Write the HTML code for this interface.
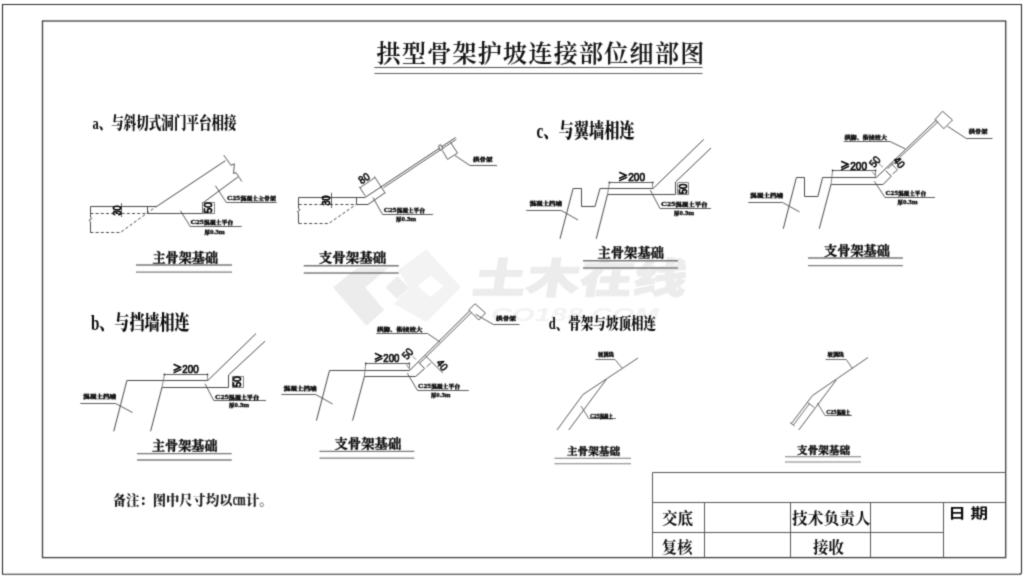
<!DOCTYPE html>
<html lang="zh-CN">
<head>
<meta charset="utf-8">
<title>拱型骨架护坡连接部位细部图</title>
<style>
html,body{margin:0;padding:0;background:#fff;}
body{width:1024px;height:579px;overflow:hidden;position:relative;font-family:"Liberation Serif","Noto Serif CJK SC",serif;}
svg{position:absolute;left:0;top:0;display:block;}
svg path{fill:none;}
.s{font-family:"Liberation Serif","Noto Serif CJK SC",serif;font-weight:500;}
.sb{font-family:"Liberation Serif","Noto Serif CJK SC",serif;font-weight:700;}
.sk{font-family:"Liberation Serif","Noto Serif CJK SC",serif;font-weight:900;}
.h{font-family:"Liberation Sans","Noto Sans CJK SC",sans-serif;font-weight:400;}
.hc{font-family:"Noto Sans CJK SC","Liberation Sans",sans-serif;font-weight:400;}
.hm{font-family:"Liberation Sans","Noto Sans CJK SC",sans-serif;font-weight:500;}
.st{font-family:"Liberation Serif","Noto Serif CJK SC",serif;font-weight:600;}
.sv{font-family:"Liberation Serif","Noto Serif CJK SC",serif;font-weight:700;}
.wmn{font-family:"Liberation Sans","Noto Sans CJK SC",sans-serif;font-weight:900;}
.hb{font-family:"Liberation Sans","Noto Sans CJK SC",sans-serif;font-weight:700;}
.wm{font-family:"Liberation Sans","Noto Sans CJK SC",sans-serif;font-weight:900;font-style:italic;}
</style>
</head>
<body>
<svg width="1024" height="579" viewBox="0 0 1024 579">
<defs>
<filter id="soft" x="0" y="0" width="1024" height="579" filterUnits="userSpaceOnUse" color-interpolation-filters="sRGB">
<feConvolveMatrix order="3" kernelMatrix="0.062 0.249 0.062 0.249 1 0.249 0.062 0.249 0.062" divisor="2.244" edgeMode="duplicate" preserveAlpha="false"/>
</filter>
</defs>
<rect x="0" y="0" width="1024" height="579" fill="#ffffff"/>
<g filter="url(#soft)">
<rect x="0" y="0" width="1024" height="579" fill="#ffffff"/>

<g id="watermark">
<path d="M333 287.4 L357 268 L388 268 L365.3 287.6 L384 310 L366.6 325.8 Z" style="fill:#ececec" stroke="none"/>
<path d="M397.2 276 L409 287.6 L397.2 299 L385.5 287.6 Z" style="fill:#ededed" stroke="none"/>
<path d="M426.4 249.5 L461 287 L426.4 322 L394 304 L409.5 287.5 L398 270 Z M430.5 275.5 L417.5 286.3 L430.5 297 L443.8 286.3 Z" style="fill:#f3f3f3;fill-rule:evenodd" stroke="none"/>
<text transform="translate(471 293) skewX(-9)" x="0" y="0" class="wmn" font-size="41" fill="#ececec" stroke="#ececec" stroke-width="1" textLength="214" lengthAdjust="spacingAndGlyphs">土木在线</text>
<text x="491.00" y="320.50" class="wm" font-size="18.5" text-anchor="start" fill="#f2f2f2" textLength="168.00" lengthAdjust="spacingAndGlyphs" >CO188.COM</text>
</g>
<g id="frames">
<path d="M2.5 4.5 H1021.5 V572.3 Q1021.5 574.3 1019.5 574.3 H2.5 Z" stroke="#2a2a2a" stroke-width="1.1"/>
<rect x="42.5" y="21" width="963.2" height="536.6" fill="none" stroke="#3c3c3c" stroke-width="1.3"/>
</g>
<g id="title">
<text x="376.6" y="62" class="st" font-size="24" fill="#111" stroke="#111" stroke-width="0.15" textLength="327.6" lengthAdjust="spacing">拱型骨架护坡连接部位细部图</text>
<path d="M374.40 67.50 L702.50 67.50" stroke="#505050" stroke-width="1.2" />
<path d="M374.40 73.50 L702.50 73.50" stroke="#606060" stroke-width="1.1" />
</g>
<g id="labels">
<text x="92.50" y="128.50" class="sk" font-size="16.8" text-anchor="start" fill="#0a0a0a" textLength="144.00" lengthAdjust="spacingAndGlyphs" >a、与斜切式洞门平台相接</text>
<text x="90.90" y="329.80" class="sk" font-size="20.5" text-anchor="start" fill="#0a0a0a" textLength="98.80" lengthAdjust="spacingAndGlyphs" >b、与挡墙相连</text>
<text x="536.50" y="137.80" class="sk" font-size="20.5" text-anchor="start" fill="#0a0a0a" textLength="98.30" lengthAdjust="spacingAndGlyphs" >c、与翼墙相连</text>
<text x="548.80" y="329.00" class="sk" font-size="16" text-anchor="start" fill="#0a0a0a" textLength="107.20" lengthAdjust="spacingAndGlyphs" >d、骨架与坡顶相连</text>
<text y="505.2" class="sk" font-size="13.3" fill="#1c1c1c"><tspan x="112.8" textLength="119.7" lengthAdjust="spacingAndGlyphs">备注：图中尺寸均以</tspan><tspan x="232.7" font-size="16" stroke="#1c1c1c" stroke-width="0.3" textLength="12.8" lengthAdjust="spacingAndGlyphs">cm</tspan><tspan x="246" textLength="26.6" lengthAdjust="spacingAndGlyphs">计。</tspan></text>
</g>
<g id="a1">
<path d="M90.50 232.70 L90.50 221.70 L89.00 220.30 L91.80 218.50 L90.50 217.20 L90.50 206.50 L156.65 206.50 L225.40 160.70" stroke="#484848" stroke-width="1.0" />
<path d="M90.40 213.50 L147.40 213.50" stroke="#484848" stroke-width="1.0" stroke-dasharray="3 2.2" />
<path d="M90.40 232.50 L120.40 232.50 L156.65 206.20" stroke="#484848" stroke-width="1.0" stroke-dasharray="3 2.2" />
<path d="M147.50 206.20 L147.50 213.50 L202.50 213.50 L202.50 203.20 L237.90 177.00" stroke="#484848" stroke-width="1.0" />
<path d="M223.80 155.10 L231.00 165.40 L234.40 163.80 L233.50 173.50 L236.00 172.60 L241.80 181.50" stroke="#484848" stroke-width="0.9" />
<path d="M121.50 203.20 L121.50 217.00" stroke="#484848" stroke-width="0.9" />
<text transform="translate(117.40 210.40) rotate(-90)" x="-5.00" y="3.94" class="h" font-size="11" fill="#000" stroke="#000" stroke-width="0.8" textLength="10.00" lengthAdjust="spacingAndGlyphs">30</text>
<path d="M202.40 202.50 L214.50 202.50 L214.50 213.50 L202.50 213.50 L202.50 202.00" stroke="#707070" stroke-width="0.9" />
<text transform="translate(208.30 207.70) rotate(-90)" x="-5.50" y="4.12" class="h" font-size="11.5" fill="#000" stroke="#000" stroke-width="0.8" textLength="11.00" lengthAdjust="spacingAndGlyphs">50</text>
<path d="M215.40 185.70 L226.30 202.50 L276.70 202.50" stroke="#484848" stroke-width="0.9" />
<text transform="translate(226.90 200.00) scale(0.25)" x="0" y="0" class="sk" font-size="20.0" fill="#000" stroke="#000" stroke-width="1.20" textLength="196.0" lengthAdjust="spacingAndGlyphs"><tspan font-size="26.0">C25</tspan>混凝土主骨架</text>
<path d="M180.40 210.70 L190.20 226.50 L241.70 226.50" stroke="#484848" stroke-width="0.9" />
<text transform="translate(190.60 224.40) scale(0.25)" x="0" y="0" class="sk" font-size="20.0" fill="#000" stroke="#000" stroke-width="1.20" textLength="170.4" lengthAdjust="spacingAndGlyphs"><tspan font-size="26.0">C25</tspan>混凝土平台</text>
<text transform="translate(204.40 233.80) scale(0.25)" x="0" y="0" class="sk" font-size="20.0" fill="#000" stroke="#000" stroke-width="1.20" textLength="81.2" lengthAdjust="spacingAndGlyphs">厚<tspan font-size="26.0">0.3m</tspan></text>
<text x="152.50" y="261.60" class="sb" font-size="13" text-anchor="start" fill="#0a0a0a" textLength="65.50" lengthAdjust="spacingAndGlyphs" stroke="#0a0a0a" stroke-width="0.35">主骨架基础</text>
<path d="M136.00 265.00 H232.00" stroke="#777" stroke-width="1.3"/>
<path d="M136.00 272.20 H232.00" stroke="#7c7c7c" stroke-width="1.3"/>
</g>
<g id="a2">
<path d="M298.50 223.50 L298.50 213.00 L297.40 211.60 L300.10 209.80 L298.50 208.50 L298.50 197.50 L365.00 197.50 L455.60 137.50" stroke="#484848" stroke-width="1.0" />
<path d="M298.75 204.50 L356.25 204.50" stroke="#484848" stroke-width="1.0" stroke-dasharray="3 2.2" />
<path d="M298.75 223.50 L328.75 223.50 L356.25 204.40" stroke="#484848" stroke-width="1.0" stroke-dasharray="3 2.2" />
<path d="M356.50 197.25 L356.50 204.50 L368.00 204.50 L385.00 192.75" stroke="#484848" stroke-width="1.0" />
<path d="M383.50 187.70 L456.40 139.30" stroke="#484848" stroke-width="0.9" />
<path d="M360.00 187.75 L375.00 177.50" stroke="#484848" stroke-width="0.9" />
<path d="M359.30 186.70 L365.30 196.00" stroke="#484848" stroke-width="0.9" />
<path d="M374.30 176.40 L385.30 193.30" stroke="#484848" stroke-width="0.9" />
<text transform="translate(364.00 178.20) rotate(-33.5)" x="-5.50" y="3.94" class="h" font-size="11" fill="#000" stroke="#000" stroke-width="0.55" textLength="11.00" lengthAdjust="spacingAndGlyphs">80</text>
<path d="M331.50 192.75 L331.50 208.00" stroke="#484848" stroke-width="0.9" />
<text transform="translate(325.60 200.60) rotate(-90)" x="-5.00" y="3.94" class="h" font-size="11" fill="#000" stroke="#000" stroke-width="0.8" textLength="10.00" lengthAdjust="spacingAndGlyphs">30</text>
<ellipse cx="440.6" cy="147.5" rx="1.6" ry="2.8" transform="rotate(-20 440.6 147.5)" fill="#fff" stroke="#484848" stroke-width="0.9"/>
<path d="M442.50 150.60 L447.50 159.40 L457.50 153.10 L450.60 142.50" stroke="#484848" stroke-width="0.9" />
<path d="M455.00 155.60 L470.00 165.50 L497.00 165.50" stroke="#484848" stroke-width="0.9" />
<text transform="translate(473.00 161.00) scale(0.25)" x="0" y="0" class="sk" font-size="20.0" fill="#000" stroke="#000" stroke-width="1.20" textLength="78.0" lengthAdjust="spacingAndGlyphs">拱骨架</text>
<path d="M373.00 197.50 L382.50 214.50 L433.00 214.50" stroke="#484848" stroke-width="0.9" />
<text transform="translate(383.70 212.20) scale(0.25)" x="0" y="0" class="sk" font-size="20.0" fill="#000" stroke="#000" stroke-width="1.20" textLength="165.2" lengthAdjust="spacingAndGlyphs"><tspan font-size="26.0">C25</tspan>混凝土平台</text>
<text transform="translate(396.00 220.80) scale(0.25)" x="0" y="0" class="sk" font-size="20.0" fill="#000" stroke="#000" stroke-width="1.20" textLength="80.0" lengthAdjust="spacingAndGlyphs">厚<tspan font-size="26.0">0.3m</tspan></text>
<text x="318.75" y="262.35" class="sb" font-size="13" text-anchor="start" fill="#0a0a0a" textLength="67.50" lengthAdjust="spacingAndGlyphs" stroke="#0a0a0a" stroke-width="0.35">支骨架基础</text>
<path d="M303.75 265.75 H398.75" stroke="#777" stroke-width="1.3"/>
<path d="M303.75 273.00 H398.75" stroke="#7c7c7c" stroke-width="1.3"/>
</g>
<g id="b1">
<path d="M113.75 431.25 L126.90 380.50 L207.80 380.50 L256.00 333.60" stroke="#484848" stroke-width="1.0" />
<path d="M150.60 431.25 L162.00 387.30" stroke="#484848" stroke-width="1.0" />
<path d="M162.00 387.30 L164.40 375.00" stroke="#6a6a6a" stroke-width="0.8" />
<path d="M162.00 387.50 L228.50 387.50 L228.50 375.00 L265.00 341.20" stroke="#484848" stroke-width="1.0" />
<path d="M164.40 374.50 L207.50 374.50" stroke="#484848" stroke-width="0.9" />
<circle cx="164.40" cy="374.50" r="0.9" fill="#333" stroke="none"/>
<circle cx="207.50" cy="374.50" r="0.9" fill="#333" stroke="none"/>
<path d="M207.50 375.00 L207.50 380.00" stroke="#6a6a6a" stroke-width="0.8" />
<text x="172.50" y="373.30" class="h" font-size="11" fill="#000" stroke="#000" stroke-width="0.7" textLength="26.30" lengthAdjust="spacingAndGlyphs"><tspan class="hc">≥</tspan>200</text>
<path d="M232.20 376.50 L243.50 376.50 L243.50 387.50 L232.50 387.50 L232.50 376.00" stroke="#707070" stroke-width="0.9" />
<text transform="translate(237.40 381.70) rotate(-90)" x="-5.45" y="3.79" class="h" font-size="10.6" fill="#000" stroke="#000" stroke-width="0.8" textLength="10.90" lengthAdjust="spacingAndGlyphs">50</text>
<path d="M80.25 403.50 L115.60 403.50 L132.50 412.50" stroke="#484848" stroke-width="0.9" />
<text transform="translate(83.10 397.80) scale(0.25)" x="0" y="0" class="sk" font-size="20.0" fill="#000" stroke="#000" stroke-width="1.20" textLength="132.6" lengthAdjust="spacingAndGlyphs">混凝土挡墙</text>
<path d="M205.00 383.75 L213.75 400.50 L266.00 400.50" stroke="#484848" stroke-width="0.9" />
<text transform="translate(215.00 398.50) scale(0.25)" x="0" y="0" class="sk" font-size="20.0" fill="#000" stroke="#000" stroke-width="1.20" textLength="176.0" lengthAdjust="spacingAndGlyphs"><tspan font-size="26.0">C25</tspan>混凝土平台</text>
<text transform="translate(229.00 407.10) scale(0.25)" x="0" y="0" class="sk" font-size="20.0" fill="#000" stroke="#000" stroke-width="1.20" textLength="80.0" lengthAdjust="spacingAndGlyphs">厚<tspan font-size="26.0">0.3m</tspan></text>
<text x="152.00" y="450.20" class="sb" font-size="13" text-anchor="start" fill="#0a0a0a" textLength="65.50" lengthAdjust="spacingAndGlyphs" stroke="#0a0a0a" stroke-width="0.35">主骨架基础</text>
<path d="M137.00 453.60 H231.75" stroke="#777" stroke-width="1.3"/>
<path d="M137.00 460.00 H231.75" stroke="#7c7c7c" stroke-width="1.3"/>
</g>
<g id="b2">
<path d="M316.40 420.60 L329.50 370.50 L409.60 370.50 L469.50 311.00" stroke="#484848" stroke-width="1.0" />
<path d="M352.60 420.60 L364.30 377.00" stroke="#484848" stroke-width="1.0" />
<path d="M364.30 377.00 L365.75 363.40" stroke="#6a6a6a" stroke-width="0.8" />
<path d="M364.30 376.50 L415.60 376.50 L424.60 368.60 L418.70 362.40" stroke="#484848" stroke-width="1.0" />
<path d="M419.60 363.40 L471.30 312.60" stroke="#484848" stroke-width="0.9" />
<path d="M365.75 363.50 L409.30 363.50" stroke="#484848" stroke-width="0.9" />
<circle cx="365.75" cy="363.50" r="0.9" fill="#333" stroke="none"/>
<circle cx="409.30" cy="363.50" r="0.9" fill="#333" stroke="none"/>
<path d="M409.50 363.40 L409.50 369.50" stroke="#6a6a6a" stroke-width="0.8" />
<path d="M406.50 364.50 L409.00 368.50" stroke="#555" stroke-width="0.8" />
<text x="373.70" y="361.80" class="h" font-size="11" fill="#000" stroke="#000" stroke-width="0.7" textLength="25.70" lengthAdjust="spacingAndGlyphs"><tspan class="hc">≥</tspan>200</text>
<text transform="translate(407.40 353.60) rotate(-50)" x="-5.50" y="3.94" class="h" font-size="11" fill="#000" stroke="#000" stroke-width="0.55" textLength="11.00" lengthAdjust="spacingAndGlyphs">50</text>
<text transform="translate(442.40 364.90) rotate(50)" x="-5.50" y="3.94" class="h" font-size="11" fill="#000" stroke="#000" stroke-width="0.55" textLength="11.00" lengthAdjust="spacingAndGlyphs">40</text>
<path d="M412.75 356.10 L415.90 359.60" stroke="#6a6a6a" stroke-width="0.8" />
<path d="M425.25 355.50 L442.75 373.00" stroke="#484848" stroke-width="0.9" />
<path d="M426.50 367.00 L430.90 363.00" stroke="#555" stroke-width="0.9" />
<path d="M468.75 310.00 L475.00 303.75 L485.50 313.00 L478.75 320.00 L468.75 310.00" stroke="#484848" stroke-width="0.9" />
<path d="M475.50 314.30 L493.40 324.50 L519.50 324.50" stroke="#484848" stroke-width="0.9" />
<text transform="translate(496.00 319.60) scale(0.25)" x="0" y="0" class="sk" font-size="20.0" fill="#000" stroke="#000" stroke-width="1.20" textLength="80.0" lengthAdjust="spacingAndGlyphs">拱骨架</text>
<path d="M376.25 333.50 L427.50 333.50 L440.00 342.00" stroke="#484848" stroke-width="0.9" />
<text transform="translate(377.00 330.60) scale(0.25)" x="0" y="0" class="sk" font-size="20.0" fill="#000" stroke="#000" stroke-width="1.20" textLength="182.0" lengthAdjust="spacingAndGlyphs">拱脚、衔接放大</text>
<path d="M407.40 373.30 L417.50 390.50 L468.75 390.50" stroke="#484848" stroke-width="0.9" />
<text transform="translate(418.00 387.80) scale(0.25)" x="0" y="0" class="sk" font-size="20.0" fill="#000" stroke="#000" stroke-width="1.20" textLength="168.0" lengthAdjust="spacingAndGlyphs"><tspan font-size="26.0">C25</tspan>混凝土平台</text>
<text transform="translate(431.00 396.60) scale(0.25)" x="0" y="0" class="sk" font-size="20.0" fill="#000" stroke="#000" stroke-width="1.20" textLength="78.0" lengthAdjust="spacingAndGlyphs">厚<tspan font-size="26.0">0.3m</tspan></text>
<path d="M281.40 394.50 L315.75 394.50 L332.60 404.00" stroke="#484848" stroke-width="0.9" />
<text transform="translate(283.50 389.60) scale(0.25)" x="0" y="0" class="sk" font-size="20.0" fill="#000" stroke="#000" stroke-width="1.20" textLength="133.0" lengthAdjust="spacingAndGlyphs">混凝土挡墙</text>
<text x="334.50" y="448.00" class="sb" font-size="13" text-anchor="start" fill="#0a0a0a" textLength="66.75" lengthAdjust="spacingAndGlyphs" stroke="#0a0a0a" stroke-width="0.35">支骨架基础</text>
<path d="M319.50 451.40 H414.40" stroke="#777" stroke-width="1.3"/>
<path d="M319.50 458.10 H414.40" stroke="#7c7c7c" stroke-width="1.3"/>
</g>
<g id="c1">
<path d="M560.00 238.75 L573.10 188.50 L581.50 188.50 L581.50 206.50 L595.00 206.50 L600.00 188.50 L653.10 188.50 L703.75 139.40" stroke="#484848" stroke-width="1.0" />
<path d="M596.25 238.75 L607.50 194.50" stroke="#484848" stroke-width="1.0" />
<path d="M607.50 194.50 L609.40 182.50" stroke="#6a6a6a" stroke-width="0.8" />
<path d="M607.50 194.50 L675.50 194.50 L675.50 182.00 L711.00 148.00" stroke="#484848" stroke-width="1.0" />
<path d="M609.40 182.50 L652.80 182.50" stroke="#484848" stroke-width="0.9" />
<circle cx="609.40" cy="182.50" r="0.9" fill="#333" stroke="none"/>
<circle cx="652.80" cy="182.50" r="0.9" fill="#333" stroke="none"/>
<path d="M652.50 182.50 L652.50 187.80" stroke="#6a6a6a" stroke-width="0.8" />
<text x="618.10" y="180.70" class="h" font-size="11" fill="#000" stroke="#000" stroke-width="0.7" textLength="26.90" lengthAdjust="spacingAndGlyphs"><tspan class="hc">≥</tspan>200</text>
<path d="M677.80 182.50 L688.50 182.50 L688.50 194.50 L677.50 194.50 L677.50 183.00" stroke="#707070" stroke-width="0.9" />
<text transform="translate(683.20 189.00) rotate(-90)" x="-5.35" y="3.79" class="h" font-size="10.6" fill="#000" stroke="#000" stroke-width="0.8" textLength="10.70" lengthAdjust="spacingAndGlyphs">50</text>
<path d="M526.25 210.50 L561.25 210.50 L578.10 220.00" stroke="#484848" stroke-width="0.9" />
<text transform="translate(529.40 205.30) scale(0.25)" x="0" y="0" class="sk" font-size="20.0" fill="#000" stroke="#000" stroke-width="1.20" textLength="130.0" lengthAdjust="spacingAndGlyphs">混凝土挡墙</text>
<path d="M650.30 190.20 L660.00 208.50 L711.00 208.50" stroke="#484848" stroke-width="0.9" />
<text transform="translate(661.00 205.80) scale(0.25)" x="0" y="0" class="sk" font-size="20.0" fill="#000" stroke="#000" stroke-width="1.20" textLength="186.0" lengthAdjust="spacingAndGlyphs"><tspan font-size="26.0">C25</tspan>混凝土平台</text>
<text transform="translate(674.00 214.50) scale(0.25)" x="0" y="0" class="sk" font-size="20.0" fill="#000" stroke="#000" stroke-width="1.20" textLength="80.0" lengthAdjust="spacingAndGlyphs">厚<tspan font-size="26.0">0.3m</tspan></text>
<text x="597.50" y="257.35" class="sb" font-size="13" text-anchor="start" fill="#0a0a0a" textLength="66.50" lengthAdjust="spacingAndGlyphs" stroke="#0a0a0a" stroke-width="0.35">主骨架基础</text>
<path d="M583.00 260.75 H678.00" stroke="#777" stroke-width="1.3"/>
<path d="M583.00 268.00 H678.00" stroke="#7c7c7c" stroke-width="1.3"/>
</g>
<g id="c2">
<path d="M783.25 228.75 L796.40 177.50 L804.50 177.50 L804.50 196.50 L817.90 196.50 L822.60 177.50 L876.25 177.50 L936.50 119.90" stroke="#484848" stroke-width="1.0" />
<path d="M819.25 228.75 L831.00 184.40" stroke="#484848" stroke-width="1.0" />
<path d="M831.00 184.40 L832.60 170.60" stroke="#6a6a6a" stroke-width="0.8" />
<path d="M831.00 184.50 L883.10 184.50 L891.25 176.25 L885.60 170.60" stroke="#484848" stroke-width="1.0" />
<path d="M887.50 168.75 L938.30 121.50" stroke="#484848" stroke-width="0.9" />
<path d="M832.60 170.50 L875.60 170.50" stroke="#484848" stroke-width="0.9" />
<circle cx="832.60" cy="170.50" r="0.9" fill="#333" stroke="none"/>
<circle cx="875.60" cy="170.50" r="0.9" fill="#333" stroke="none"/>
<path d="M875.50 170.60 L875.50 176.80" stroke="#6a6a6a" stroke-width="0.8" />
<path d="M872.50 171.80 L875.30 175.50" stroke="#555" stroke-width="0.8" />
<text x="840.10" y="169.50" class="h" font-size="11" fill="#000" stroke="#000" stroke-width="0.7" textLength="26.90" lengthAdjust="spacingAndGlyphs"><tspan class="hc">≥</tspan>200</text>
<text transform="translate(874.70 161.60) rotate(-50)" x="-5.50" y="3.94" class="h" font-size="11" fill="#000" stroke="#000" stroke-width="0.55" textLength="11.00" lengthAdjust="spacingAndGlyphs">50</text>
<text transform="translate(899.40 162.50) rotate(50)" x="-5.50" y="3.94" class="h" font-size="11" fill="#000" stroke="#000" stroke-width="0.55" textLength="11.00" lengthAdjust="spacingAndGlyphs">40</text>
<path d="M878.75 163.40 L883.10 167.50" stroke="#6a6a6a" stroke-width="0.8" />
<path d="M892.50 174.00 L897.50 170.00 L891.25 163.40" stroke="#555" stroke-width="0.9" />
<path d="M935.00 119.50 L942.50 111.25 L952.50 120.00 L943.75 128.75 L935.00 119.50" stroke="#484848" stroke-width="0.9" />
<path d="M947.50 126.25 L966.25 138.50 L992.50 138.50" stroke="#484848" stroke-width="0.9" />
<text transform="translate(968.75 133.00) scale(0.25)" x="0" y="0" class="sk" font-size="20.0" fill="#000" stroke="#000" stroke-width="1.20" textLength="75.0" lengthAdjust="spacingAndGlyphs">拱骨架</text>
<path d="M843.75 141.50 L890.00 141.50 L905.00 148.75" stroke="#484848" stroke-width="0.9" />
<text transform="translate(844.50 138.60) scale(0.25)" x="0" y="0" class="sk" font-size="20.0" fill="#000" stroke="#000" stroke-width="1.20" textLength="170.0" lengthAdjust="spacingAndGlyphs">拱脚、衔接放大</text>
<path d="M874.40 181.25 L885.00 197.50 L935.00 197.50" stroke="#484848" stroke-width="0.9" />
<text transform="translate(885.50 195.30) scale(0.25)" x="0" y="0" class="sk" font-size="20.0" fill="#000" stroke="#000" stroke-width="1.20" textLength="162.0" lengthAdjust="spacingAndGlyphs"><tspan font-size="26.0">C25</tspan>混凝土平台</text>
<text transform="translate(897.50 204.30) scale(0.25)" x="0" y="0" class="sk" font-size="20.0" fill="#000" stroke="#000" stroke-width="1.20" textLength="80.0" lengthAdjust="spacingAndGlyphs">厚<tspan font-size="26.0">0.3m</tspan></text>
<path d="M748.25 202.50 L782.60 202.50 L799.50 211.90" stroke="#484848" stroke-width="0.9" />
<text transform="translate(750.10 196.60) scale(0.25)" x="0" y="0" class="sk" font-size="20.0" fill="#000" stroke="#000" stroke-width="1.20" textLength="132.6" lengthAdjust="spacingAndGlyphs">混凝土挡墙</text>
<text x="824.00" y="254.60" class="sb" font-size="13" text-anchor="start" fill="#0a0a0a" textLength="66.00" lengthAdjust="spacingAndGlyphs" stroke="#0a0a0a" stroke-width="0.35">支骨架基础</text>
<path d="M808.00 258.00 H903.00" stroke="#777" stroke-width="1.3"/>
<path d="M808.00 265.60 H903.00" stroke="#7c7c7c" stroke-width="1.3"/>
</g>
<g id="d1">
<path d="M557.00 430.00 L583.00 394.50 L638.00 358.00" stroke="#484848" stroke-width="0.9" />
<path d="M568.75 430.00 L606.25 379.50" stroke="#484848" stroke-width="0.9" />
<path d="M595.50 359.50 L615.00 359.50 L622.00 368.00" stroke="#484848" stroke-width="0.8" />
<text transform="translate(598.10 355.50) scale(0.25)" x="0" y="0" class="sk" font-size="18.0" fill="#000" stroke="#000" stroke-width="1.20" textLength="62.6" lengthAdjust="spacingAndGlyphs">坡顶线</text>
<path d="M581.00 406.00 L588.75 418.50 L616.00 418.50" stroke="#484848" stroke-width="0.8" />
<text transform="translate(590.00 417.70) scale(0.25)" x="0" y="0" class="sk" font-size="18.0" fill="#000" stroke="#000" stroke-width="1.20" textLength="91.2" lengthAdjust="spacingAndGlyphs"><tspan font-size="23.4">C25</tspan>混凝土</text>
<text x="567.00" y="455.25" class="sb" font-size="10.3" text-anchor="start" fill="#0a0a0a" textLength="53.00" lengthAdjust="spacingAndGlyphs" stroke="#0a0a0a" stroke-width="0.4">主骨架基础</text>
<path d="M554.50 458.25 H631.00" stroke="#777" stroke-width="1.0"/>
<path d="M554.50 463.75 H631.00" stroke="#7c7c7c" stroke-width="1.0"/>
</g>
<g id="d2">
<path d="M791.25 423.75 L812.50 395.50 L868.00 357.50" stroke="#484848" stroke-width="0.9" />
<path d="M793.50 425.00 L809.50 403.50" stroke="#484848" stroke-width="0.8" />
<path d="M790.00 422.50 L794.50 426.00" stroke="#484848" stroke-width="0.8" />
<path d="M798.75 430.00 L836.25 380.00" stroke="#484848" stroke-width="0.9" />
<path d="M807.50 402.50 L814.25 407.50" stroke="#484848" stroke-width="0.8" />
<path d="M825.50 359.50 L846.25 359.50 L852.50 368.75" stroke="#484848" stroke-width="0.8" />
<text transform="translate(827.50 355.50) scale(0.25)" x="0" y="0" class="sk" font-size="18.0" fill="#000" stroke="#000" stroke-width="1.20" textLength="65.0" lengthAdjust="spacingAndGlyphs">坡顶线</text>
<path d="M817.50 403.00 L825.00 415.50 L852.00 415.50" stroke="#484848" stroke-width="0.8" />
<text transform="translate(826.25 414.10) scale(0.25)" x="0" y="0" class="sk" font-size="18.0" fill="#000" stroke="#000" stroke-width="1.20" textLength="95.0" lengthAdjust="spacingAndGlyphs"><tspan font-size="23.4">C25</tspan>混凝土</text>
<text x="797.00" y="453.75" class="sb" font-size="10.3" text-anchor="start" fill="#0a0a0a" textLength="53.00" lengthAdjust="spacingAndGlyphs" stroke="#0a0a0a" stroke-width="0.4">支骨架基础</text>
<path d="M785.00 456.75 H861.00" stroke="#777" stroke-width="1.0"/>
<path d="M785.00 462.00 H861.00" stroke="#7c7c7c" stroke-width="1.0"/>
</g>
<g id="tb">
<path d="M1006.00 472.50 L652.50 472.50 L652.50 557.60" stroke="#555" stroke-width="1" />
<path d="M652.00 502.50 L1006.00 502.50" stroke="#555" stroke-width="1" />
<path d="M652.00 532.50 L943.80 532.50" stroke="#555" stroke-width="1" />
<path d="M704.50 502.90 L704.50 557.60" stroke="#555" stroke-width="1" />
<path d="M790.50 502.90 L790.50 557.60" stroke="#555" stroke-width="1" />
<path d="M870.50 502.90 L870.50 557.60" stroke="#555" stroke-width="1" />
<path d="M943.50 502.90 L943.50 557.60" stroke="#555" stroke-width="1" />
<text x="662.00" y="523.60" class="sv" font-size="15.8" text-anchor="start" fill="#0a0a0a" textLength="31.20" lengthAdjust="spacingAndGlyphs" >交底</text>
<text x="661.50" y="552.60" class="sv" font-size="15.8" text-anchor="start" fill="#0a0a0a" textLength="31.00" lengthAdjust="spacingAndGlyphs" >复核</text>
<text x="792.00" y="523.50" class="sv" font-size="16" text-anchor="start" fill="#0a0a0a" textLength="78.60" lengthAdjust="spacingAndGlyphs" >技术负责人</text>
<text x="813.00" y="552.50" class="sv" font-size="16" text-anchor="start" fill="#0a0a0a" textLength="31.00" lengthAdjust="spacingAndGlyphs" >接收</text>
<text x="948.20" y="518.00" class="hb" font-size="14" text-anchor="start" fill="#0a0a0a" textLength="40.00" lengthAdjust="spacingAndGlyphs" xml:space="preserve">日 期</text>
</g>
</g>
</svg>
</body>
</html>
